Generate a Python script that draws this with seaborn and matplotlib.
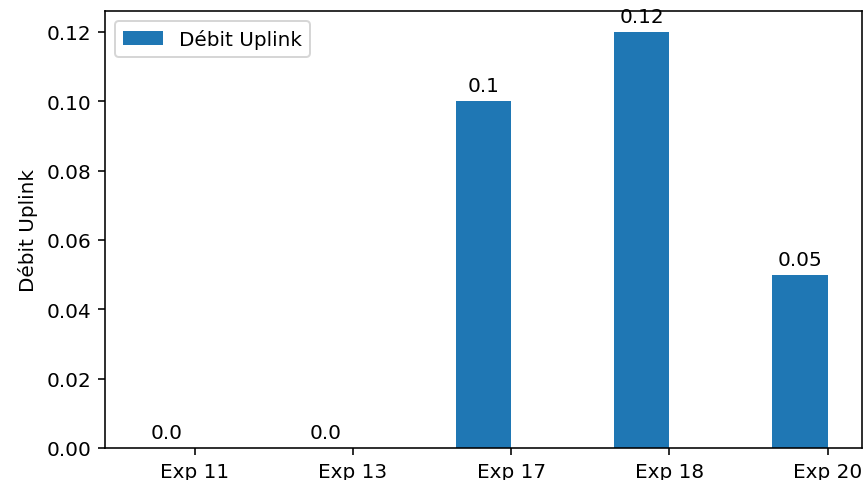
import numpy as np
import pandas as pd
import matplotlib
matplotlib.use('Agg')
import matplotlib.pyplot as plt
import seaborn as sns

# Data
experiments = ['Exp 11', 'Exp 13', 'Exp 17', 'Exp 18', 'Exp 20']
uplink = [0.0, 0.0, 0.1, 0.12, 0.05]

width = 0.35
x = np.arange(len(experiments))
df = pd.DataFrame({'pos': x - width / 2, 'Débit Uplink': uplink})

fig = plt.figure(figsize=(6, 3.34), dpi=144)
ax = fig.add_axes([105 / 864, 32 / 481, 757 / 864, 437 / 481])

sns.barplot(data=df, x='pos', y='Débit Uplink', native_scale=True, width=width,
            color='#1f77b4', saturation=1, errorbar=None, label='Débit Uplink', ax=ax)

ax.bar_label(ax.containers[0], labels=[str(v) for v in uplink], padding=3)

ax.set_xticks(x)
ax.set_xticklabels(experiments)
ax.set_xlim(-0.5675, 4.2175)
ax.set_ylim(0, 0.126)
ax.set_xlabel('')
ax.set_ylabel('Débit Uplink')
ax.legend(loc='upper left')

fig.savefig('out.png', dpi=144)
